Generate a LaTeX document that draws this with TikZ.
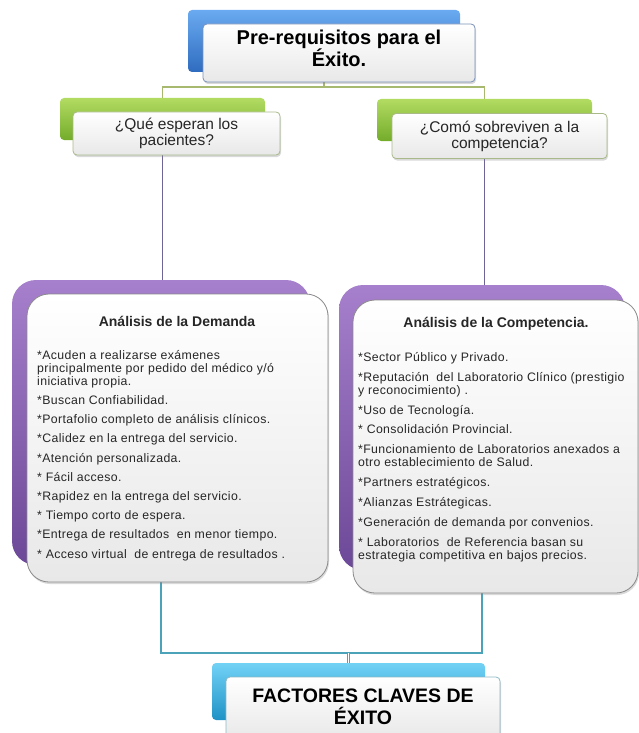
\documentclass[tikz,border=0pt]{standalone}
\usepackage{fontspec}
\setmainfont{Liberation Sans}
\newfontfamily\listfont[LetterSpace=3]{Liberation Sans}
\usetikzlibrary{shadows,backgrounds}

\definecolor{bluehi}{HTML}{6AAAF0}
\definecolor{bluelo}{HTML}{2F6CC0}
\definecolor{greenhi}{HTML}{B2DB62}
\definecolor{greenlo}{HTML}{74AC2A}
\definecolor{purplehi}{HTML}{A680CC}
\definecolor{purplelo}{HTML}{6C4898}
\definecolor{cyanhi}{HTML}{72D2F6}
\definecolor{cyanlo}{HTML}{1E92C6}
\definecolor{edgeblue}{HTML}{7A90B8}
\definecolor{edgegreen}{HTML}{A9B98A}
\definecolor{edgegrey}{HTML}{8A8A8A}
\definecolor{edgecyan}{HTML}{8CB8C6}
\definecolor{linegreen}{HTML}{A6B96E}
\definecolor{linepurple}{HTML}{6E6496}
\definecolor{lineteal}{HTML}{4BA3B9}

\begin{document}
\begin{tikzpicture}[x=1pt,y=-1pt,
  backbox/.style={rectangle,rounded corners=4pt,inner sep=0pt},
  frontbox/.style={rectangle,rounded corners=4pt,inner sep=0pt,align=center,
    top color=white,bottom color=black!9,line width=0.8pt,
    drop shadow={opacity=0.3,shadow xshift=1pt,shadow yshift=-2pt}},
  listtext/.style={anchor=north west,inner sep=0pt,align=left,
    font=\listfont\fontsize{12.3}{13}\selectfont,text=black!85},
  boxtitle/.style={inner sep=0pt,font=\fontsize{14}{16}\selectfont\bfseries,text=black!85},
  bigtitle/.style={inner sep=0pt,align=center,font=\fontsize{20}{22}\selectfont\bfseries},
  asktext/.style={font=\fontsize{15.5}{16}\selectfont,text=black!85},
  link/.style={line width=1.3pt}]
\useasboundingbox (0,0) rectangle (639,733);

% top box
\node[backbox,top color=bluehi,bottom color=bluelo,minimum width=272pt,minimum height=62pt] (topback) at (324,41) {};
\node[frontbox,draw=edgeblue,minimum width=272pt,minimum height=58pt] (topbox) at (339,53) {};
\node[bigtitle] (toptext) at (339,48) {Pre-requisitos para el\\Éxito.};

% green boxes
\node[backbox,top color=greenhi,bottom color=greenlo,minimum width=205pt,minimum height=42pt] (askback) at (162.5,119) {};
\node[frontbox,draw=edgegreen,minimum width=207pt,minimum height=43pt,asktext] (askbox) at (176.5,133.5) {¿Qué esperan los\\pacientes?};
\node[backbox,top color=greenhi,bottom color=greenlo,minimum width=215pt,minimum height=42pt] (compqback) at (484.5,120) {};
\node[frontbox,draw=edgegreen,minimum width=215pt,minimum height=45pt,asktext] (compqbox) at (499.5,136) {¿Comó sobreviven a la\\competencia?};

% purple boxes
\node[backbox,rounded corners=24pt,top color=purplehi,bottom color=purplelo,minimum width=298pt,minimum height=285pt] (demback) at (161,422.5) {};
\node[frontbox,rounded corners=22pt,draw=edgegrey,minimum width=301pt,minimum height=288pt] (dembox) at (177.5,438) {};
\node[backbox,rounded corners=24pt,top color=purplehi,bottom color=purplelo,minimum width=286pt,minimum height=285pt] (compback) at (482,427.5) {};
\node[frontbox,rounded corners=22pt,draw=edgegrey,minimum width=285pt,minimum height=293pt] (compbox) at (495.5,446.5) {};

\node[boxtitle] (demtitle) at (177,321) {Análisis de la Demanda};
\node[boxtitle] (comptitle) at (496,324) {Análisis de la Competencia.};

\node[listtext] (demlist) at (37,350) {*Acuden a realizarse exámenes\\principalmente por pedido del médico y/ó\\iniciativa propia.\\[6.2pt]*Buscan Confiabilidad.\\[6.2pt]*Portafolio completo de análisis clínicos.\\[6.2pt]*Calidez en la entrega del servicio.\\[6.2pt]*Atención personalizada.\\[6.2pt]* Fácil acceso.\\[6.2pt]*Rapidez en la entrega del servicio.\\[6.2pt]* Tiempo corto de espera.\\[6.2pt]*Entrega de resultados\ \ en menor tiempo.\\[6.2pt]* Acceso virtual\ \ de entrega de resultados .};
\node[listtext] (complist) at (358,352) {*Sector Público y Privado.\\[6.9pt]*Reputación\ \ del Laboratorio Clínico (prestigio\\y reconocimiento) .\\[6.9pt]*Uso de Tecnología.\\[6.9pt]* Consolidación Provincial.\\[6.9pt]*Funcionamiento de Laboratorios anexados a\\otro establecimiento de Salud.\\[6.9pt]*Partners estratégicos.\\[6.9pt]*Alianzas Estrátegicas.\\[6.9pt]*Generación de demanda por convenios.\\[6.9pt]* Laboratorios\ \ de Referencia basan su\\estrategia competitiva en bajos precios.};

% bottom box
\node[backbox,top color=cyanhi,bottom color=cyanlo,minimum width=273pt,minimum height=57pt] (facback) at (348.5,691.5) {};
\node[frontbox,draw=edgecyan,minimum width=274pt,minimum height=63pt] (facbox) at (363,708.5) {};
\node[bigtitle,font=\fontsize{19.5}{22}\selectfont\bfseries] (factext) at (363,707) {FACTORES CLAVES DE\\ÉXITO};

% connectors
\coordinate (topjoin) at (324,87);
\coordinate (botjoin) at (348.5,653);
\begin{scope}[on background layer]
\draw[link,linegreen] (topback.center) -- (topjoin);
\draw[link,linegreen] (askback.north) |- (topjoin) -| (compqback.north);
\draw[link,linepurple] (askback.center) -- (askback.center |- demback.north);
\draw[link,linepurple] (compqback.center) -- (compqback.center |- compback.north);
\draw[link,lineteal] (demback.center) |- (botjoin) -| (compback.center);
\draw[link,lineteal,double=white,double distance=1.6pt,line width=0.9pt] (botjoin) -- (facback.north);
\end{scope}
\end{tikzpicture}
\end{document}
